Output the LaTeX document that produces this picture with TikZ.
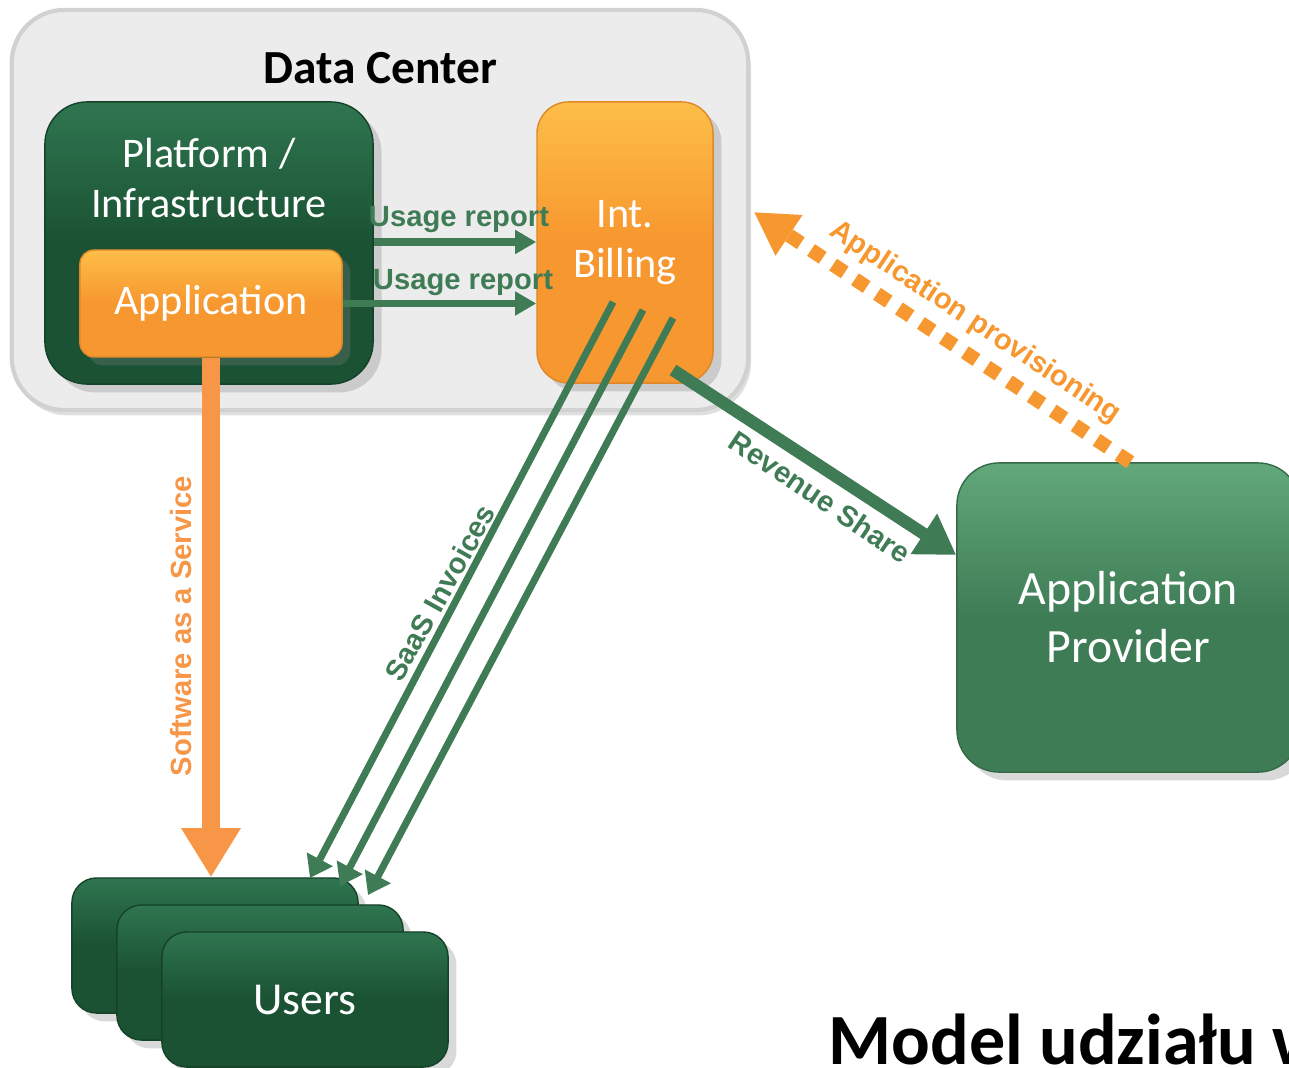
\documentclass[tikz,border=0pt]{standalone}
\usepackage{fontspec}
\setmainfont{Carlito}
\newfontfamily\lblfont{Liberation Sans}
\usetikzlibrary{arrows.meta,shadows}
\definecolor{dkgreen}{HTML}{1A5233}
\definecolor{dkgreentop}{HTML}{2F7550}
\definecolor{midgreen}{HTML}{3F7C56}
\definecolor{provgreen}{HTML}{3E7C55}
\definecolor{provgreentop}{HTML}{62A87B}
\definecolor{boxorange}{HTML}{F7972F}
\definecolor{boxorangetop}{HTML}{FDBE48}
\definecolor{saasorange}{HTML}{F79646}
\definecolor{dcgray}{HTML}{ECECEC}
\begin{document}
\begin{tikzpicture}[x=0.01cm, y=-0.01cm, line join=round,
  dcbox/.style={rounded corners=15pt, fill=dcgray, draw=black!18, line width=1.2pt,
    drop shadow={opacity=0.25, shadow xshift=0.8pt, shadow yshift=-1.5pt}},
  dkbox/.style={rounded corners=#1, top color=dkgreentop, bottom color=dkgreen, middle color=dkgreen,
    draw=dkgreen!80!black, drop shadow={opacity=0.3}},
  orbox/.style={rounded corners=#1, top color=boxorangetop, bottom color=boxorange, middle color=boxorange,
    draw=boxorange!90!black, drop shadow={opacity=0.3}},
  provbox/.style={rounded corners=12pt, top color=provgreentop, bottom color=provgreen, middle color=provgreen,
    draw=provgreen!85!black, drop shadow={opacity=0.3}},
  boxtext/.style={text=white, font=\fontsize{12}{14.3}\selectfont},
  usersize/.style={minimum width=2.86cm, minimum height=1.35cm},
  lbl/.style={font=\lblfont\bfseries\fontsize{8.3}{10}\selectfont, inner sep=1pt},
  usage/.style={draw=midgreen, line width=2pt, -{Triangle[length=6pt, width=6.5pt]}},
  saas/.style={draw=saasorange, line width=5pt, -{Triangle[length=14pt, width=16pt]}},
  inv/.style={draw=midgreen, line width=2pt, -{Triangle[length=6pt, width=8pt]}},
  revenue/.style={draw=midgreen, line width=3.5pt, -{Triangle[length=11pt, width=13pt]}},
  prov/.style={draw=boxorange, line width=4pt, dash pattern=on 4pt off 3.5pt, -{Triangle[length=12pt, width=13pt]}}]
\useasboundingbox (0,0) rectangle (1289,1067);

% data center
\node[dcbox, minimum width=7.36cm, minimum height=4cm] (dc) at (380,210) {};
\node[font=\bfseries\fontsize{13.5}{16}\selectfont] (dctitle) at (380,68) {Data Center};
\node[dkbox=12pt, minimum width=3.28cm, minimum height=2.82cm] (platform) at (209,243) {};
\node[boxtext, align=center] (platformtxt) at (209,178) {Platform /\\Infrastructure};
\node[orbox=4pt, boxtext, minimum width=2.62cm, minimum height=1.07cm] (app) at (211,303.5) {Application};
\node[orbox=9pt, boxtext, align=center, minimum width=1.76cm, minimum height=2.81cm] (billing) at (625,242.5) {Int.\\Billing};

% provider and users
\node[provbox, text=white, font=\fontsize{13.6}{16.5}\selectfont, align=center,
  minimum width=3.43cm, minimum height=3.09cm] (provider) at (1128.5,617.5) {Application\\Provider};
\node[dkbox=7pt, usersize] (users3) at (215,945.5) {};
\node[dkbox=7pt, usersize] (users2) at (260,972.5) {};
\node[dkbox=7pt, usersize, boxtext, font=\fontsize{13}{15}\selectfont] (users) at (305,999.5) {Users};

% connectors
\draw[usage] (platform.east |- 0,242) -- (billing.west |- 0,242);
\draw[usage] (app.east) -- (billing.west |- app.east);
\draw[saas] (app.south) -- (app.south |- users3.north);
\coordinate (inv1) at (613,302);
\coordinate (inv2) at (643,310);
\coordinate (inv3) at (673,318);
\coordinate (inv1e) at (310,878);
\coordinate (inv2e) at (340,886);
\coordinate (inv3e) at (368,895);
\draw[inv] (inv1) -- (inv1e);
\draw[inv] (inv2) -- (inv2e);
\draw[inv] (inv3) -- (inv3e);
\coordinate (revs) at (673,370);
\draw[revenue] (revs) -- (provider.west |- 0,555);
\draw[prov] ([xshift=0.5pt]provider.north) -- ([xshift=1pt]dc.east |- 0,212);

% labels
\node[lbl, text=midgreen] (u1lbl) at (459,220) {Usage report};
\node[lbl, text=midgreen] (u2lbl) at (463,283) {Usage report};
\node[lbl, text=saasorange, rotate=90] (saaslbl) at (181,626) {Software as a Service};
\node[lbl, text=midgreen, rotate=61] (invlbl) at (440,593) {SaaS Invoices};
\node[lbl, text=midgreen, rotate=-34] (revlbl) at (820,497) {Revenue Share};
\node[lbl, text=boxorange, rotate=-33.5] (provlbl) at (975,323) {Application provisioning};

\node[anchor=base west, font=\bfseries\fontsize{20.5}{24}\selectfont, inner sep=0pt] (title) at (828,1064) {Model udziału w};
\end{tikzpicture}
\end{document}
